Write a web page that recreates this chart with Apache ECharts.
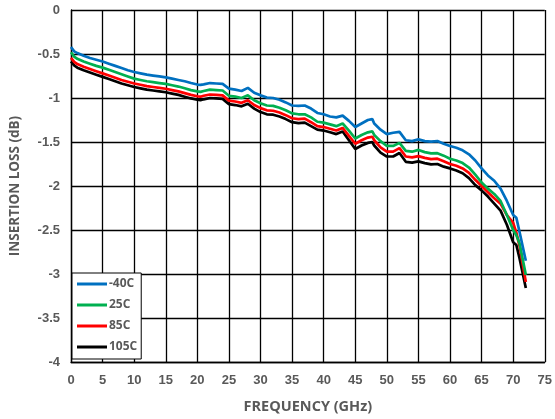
<!DOCTYPE html>
<html>
<head>
<meta charset="utf-8">
<script src="https://cdn.jsdelivr.net/npm/echarts@6/dist/echarts.min.js"></script>
<style>
  html, body { margin: 0; padding: 0; background: #fff; }
  #chart { width: 555px; height: 419px; }
</style>
</head>
<body>
<div id="chart"></div>
<script>
// Insertion loss vs frequency at four temperatures
const seriesNames = ['-40C', '25C', '85C', '105C'];
const seriesColors = ['#0070C0', '#00B050', '#FF0000', '#000000'];

// Frequency points (GHz)
const freq = [0, 0.5, 1, 2, 3, 4, 5, 6, 7, 8, 9, 10, 11, 12, 13, 14, 15, 16, 17, 18, 19, 20, 20.5,
  21, 22, 23, 24, 25, 26, 27, 28, 29, 30, 31, 32, 33, 34, 35, 36, 37, 38, 39, 40, 41, 42, 43, 44,
  45, 46, 47, 47.7, 48, 49, 50, 51, 52, 53, 54, 55, 56, 57, 58, 59, 60, 61, 62, 63, 64, 65, 66,
  67, 68, 69, 70, 70.5, 71, 72];

// Insertion loss (dB)
const lossM40 = [-0.42, -0.47, -0.49, -0.52, -0.545, -0.565, -0.585, -0.61, -0.635, -0.66, -0.685, -0.705,
  -0.72, -0.735, -0.745, -0.755, -0.765, -0.78, -0.795, -0.81, -0.83, -0.847, -0.85,
  -0.845, -0.83, -0.835, -0.84, -0.893, -0.905, -0.92, -0.885, -0.94, -0.97, -0.995, -1.0, -1.02, -1.05,
  -1.085, -1.09, -1.085, -1.12, -1.17, -1.185, -1.21, -1.22, -1.2, -1.26,
  -1.33, -1.29, -1.25, -1.24, -1.29, -1.36, -1.41, -1.395, -1.385, -1.48, -1.49, -1.47, -1.49, -1.495, -1.49,
  -1.52, -1.545, -1.565, -1.595, -1.64, -1.71, -1.8, -1.88,
  -1.94, -2.03, -2.17, -2.33, -2.36, -2.52, -2.85];

const loss25 = [-0.48, -0.53, -0.555, -0.585, -0.61, -0.635, -0.655, -0.68, -0.705, -0.73, -0.755, -0.78,
  -0.795, -0.81, -0.82, -0.83, -0.84, -0.855, -0.87, -0.89, -0.91, -0.925, -0.93,
  -0.92, -0.905, -0.91, -0.915, -0.975, -0.985, -1.0, -0.97, -1.025, -1.06, -1.085, -1.09, -1.11, -1.14,
  -1.175, -1.185, -1.185, -1.22, -1.27, -1.28, -1.3, -1.32, -1.29, -1.37,
  -1.46, -1.42, -1.39, -1.38, -1.42, -1.49, -1.545, -1.545, -1.51, -1.6, -1.61, -1.59, -1.615, -1.63, -1.627,
  -1.655, -1.69, -1.71, -1.74, -1.79, -1.87, -1.96, -2.03,
  -2.09, -2.17, -2.33, -2.5, -2.56, -2.65, -3.01];

const loss85 = [-0.545, -0.59, -0.615, -0.645, -0.67, -0.695, -0.72, -0.745, -0.77, -0.795, -0.815, -0.835,
  -0.85, -0.865, -0.875, -0.885, -0.895, -0.91, -0.925, -0.945, -0.965, -0.98, -0.985,
  -0.975, -0.96, -0.965, -0.97, -1.03, -1.04, -1.055, -1.025, -1.08, -1.115, -1.14, -1.145, -1.165, -1.195,
  -1.23, -1.24, -1.235, -1.275, -1.32, -1.33, -1.35, -1.37, -1.34, -1.43,
  -1.52, -1.48, -1.45, -1.44, -1.48, -1.56, -1.61, -1.61, -1.57, -1.665, -1.675, -1.66, -1.68, -1.695, -1.69,
  -1.72, -1.75, -1.77, -1.8, -1.85, -1.93, -2.0, -2.07,
  -2.14, -2.2, -2.33, -2.42, -2.53, -2.68, -3.09];

const loss105 = [-0.585, -0.63, -0.655, -0.685, -0.71, -0.735, -0.76, -0.785, -0.81, -0.835, -0.855, -0.875,
  -0.89, -0.905, -0.915, -0.925, -0.935, -0.95, -0.965, -0.985, -1.005, -1.02, -1.025,
  -1.015, -1.0, -1.005, -1.01, -1.07, -1.08, -1.095, -1.065, -1.12, -1.16, -1.185, -1.19, -1.21, -1.24,
  -1.275, -1.285, -1.28, -1.32, -1.36, -1.37, -1.39, -1.41, -1.38, -1.48,
  -1.58, -1.54, -1.51, -1.5, -1.54, -1.62, -1.665, -1.665, -1.625, -1.725, -1.735, -1.72, -1.74, -1.755, -1.75,
  -1.78, -1.8, -1.825, -1.855, -1.91, -1.99, -2.05, -2.12,
  -2.2, -2.28, -2.44, -2.64, -2.67, -2.82, -3.16];

const seriesValues = [lossM40, loss25, loss85, loss105];

const textGray = '#595959';
const tickFont = '"Liberation Sans", Arial, sans-serif';
const nameFont = '"Open Sans", "Noto Sans", sans-serif';

const chart = echarts.init(document.getElementById('chart'), null, { renderer: 'canvas' });

chart.setOption({
  animation: false,
  backgroundColor: '#ffffff',
  grid: { left: 69, right: 10, top: 10, bottom: 55, containLabel: false },
  legend: {
    orient: 'vertical',
    left: 72,
    top: 273,
    padding: [5, 4, 6, 5],
    itemGap: 9,
    itemWidth: 30,
    itemHeight: 3,
    icon: 'rect',
    backgroundColor: '#ffffff',
    borderColor: '#000000',
    borderWidth: 1,
    textStyle: { color: textGray, fontFamily: nameFont, fontWeight: 'bold', fontSize: 12, padding: [0, 0, 0, -3] },
    data: seriesNames
  },
  xAxis: {
    type: 'value',
    min: 0,
    max: 75,
    interval: 5,
    name: 'FREQUENCY (GHz)',
    nameLocation: 'middle',
    nameGap: 37,
    nameTextStyle: { color: textGray, fontFamily: nameFont, fontWeight: 'bold', fontSize: 14.5 },
    axisLine: { show: true, onZero: false, lineStyle: { color: '#000', width: 1.3 } },
    axisTick: { show: false },
    axisLabel: { color: textGray, fontFamily: tickFont, fontWeight: 'bold', fontSize: 13, margin: 12 },
    splitLine: { show: true, lineStyle: { color: '#000', width: 1.3 } }
  },
  yAxis: {
    type: 'value',
    min: -4,
    max: 0,
    interval: 0.5,
    name: 'INSERTION LOSS (dB)',
    nameLocation: 'middle',
    nameGap: 49,
    nameTextStyle: { color: textGray, fontFamily: nameFont, fontWeight: 'bold', fontSize: 13.5 },
    axisLine: { show: true, onZero: false, lineStyle: { color: '#000', width: 1.3 } },
    axisTick: { show: false },
    axisLabel: { color: textGray, fontFamily: tickFont, fontWeight: 'bold', fontSize: 13, margin: 11 },
    splitLine: { show: true, lineStyle: { color: '#000', width: 1.3 } }
  },
  series: seriesNames.map((name, i) => ({
    name: name,
    type: 'line',
    data: freq.map((f, k) => [f, seriesValues[i][k]]),
    showSymbol: false,
    symbol: 'none',
    smooth: false,
    color: seriesColors[i],
    lineStyle: { color: seriesColors[i], width: 2.7 },
    z: 10 - i
  }))
});
</script>
</body>
</html>
